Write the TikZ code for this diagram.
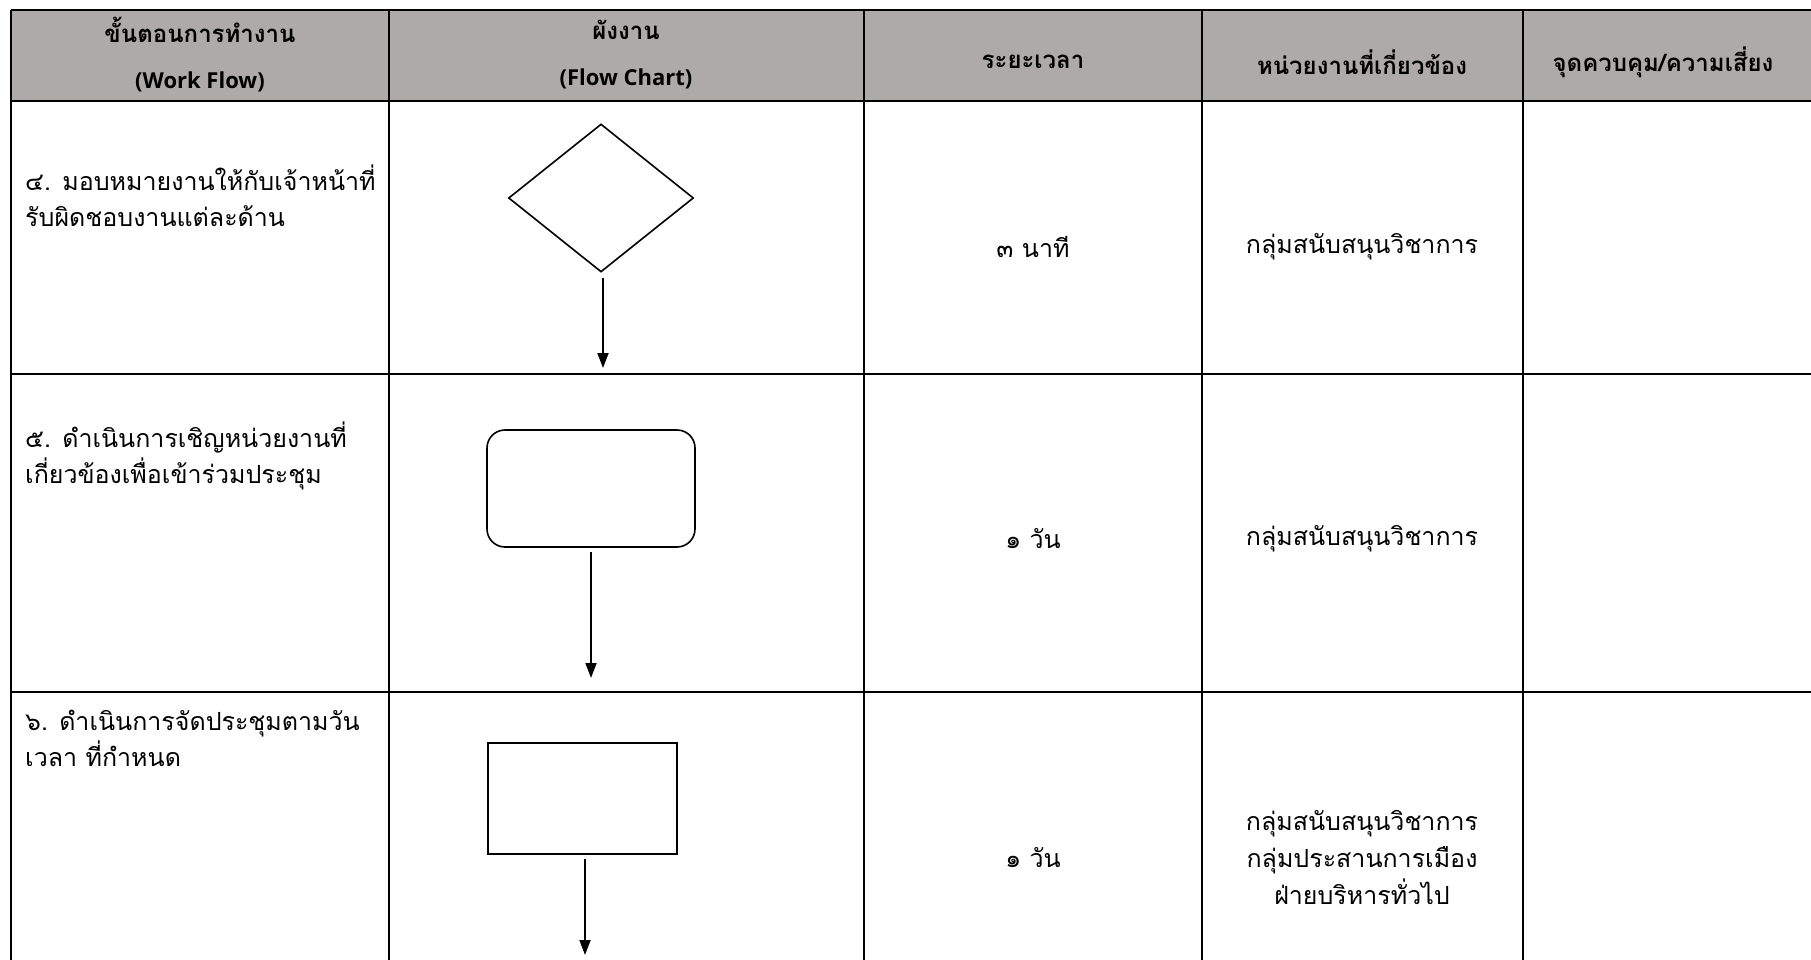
\documentclass[tikz,border=0pt]{standalone}
\usepackage{fontspec}
\newfontfamily\thai[Script=Thai]{Loma}
\newfontfamily\latin{Open Sans}
\usetikzlibrary{shapes.geometric,arrows.meta}
\definecolor{hdrgray}{RGB}{174,170,169}
\begin{document}
\begin{tikzpicture}[x=1pt,y=-1pt,
  tbl/.style={line width=2.6pt},
  hdr/.style={font=\thai\bfseries\fontsize{24}{46}\selectfont,align=center,inner sep=0pt},
  body/.style={font=\thai\fontsize{25}{36}\selectfont,align=left,anchor=west,inner sep=0pt},
  cell/.style={font=\thai\fontsize{25}{37}\selectfont,align=center,inner sep=0pt},
  shp/.style={draw,line width=1.6pt,inner sep=0pt},
  flow/.style={line width=1.8pt,-{Triangle[length=15pt,width=11pt]}}]
\useasboundingbox (0,0) rectangle (1811,960);
% header background
\fill[hdrgray] (11,10) rectangle (1811,101);
% table lines
\draw[tbl] (11,10) -- (1811,10);
\draw[tbl] (11,101) -- (1811,101);
\draw[tbl] (11,374) -- (1811,374);
\draw[tbl] (11,692) -- (1811,692);
\foreach \xx in {11,389,864,1202,1523} \draw[tbl] (\xx,10) -- (\xx,961);
% header texts
\node[hdr] (h1) at (200,55) {ขั้นตอนการทำงาน\\{\latin\fontsize{22}{46}\selectfont (Work Flow)}};
\node[hdr] (h2) at (626,55) {ผังงาน\\{\latin\fontsize{22}{46}\selectfont (Flow Chart)}};
\node[hdr] (h3) at (1033,62) {ระยะเวลา};
\node[hdr] (h4) at (1362,62) {หน่วยงานที่เกี่ยวข้อง};
\node[hdr] (h5) at (1663,62) {จุดควบคุม/ความเสี่ยง};
% step texts
\node[body] (s4) at (25,196) {๔. มอบหมายงานให้กับเจ้าหน้าที่\\รับผิดชอบงานแต่ละด้าน};
\node[body] (s5) at (25,456) {๕. ดำเนินการเชิญหน่วยงานที่\\เกี่ยวข้องเพื่อเข้าร่วมประชุม};
\node[body] (s6) at (25,738) {๖. ดำเนินการจัดประชุมตามวัน\\เวลา ที่กำหนด};
% times
\node[cell] (t4) at (1033,247) {๓ นาที};
\node[cell] (t5) at (1033,539) {๑ วัน};
\node[cell] (t6) at (1033,858) {๑ วัน};
% units
\node[cell] (u4) at (1362,247) {กลุ่มสนับสนุนวิชาการ};
\node[cell] (u5) at (1362,539) {กลุ่มสนับสนุนวิชาการ};
\node[cell] (u6) at (1362,858) {กลุ่มสนับสนุนวิชาการ\\กลุ่มประสานการเมือง\\ฝ่ายบริหารทั่วไป};
% flow chart shapes
\node[shp,diamond,minimum width=185pt,minimum height=148pt,aspect=1.25] (d4) at (601,198) {};
\node[shp,rectangle,rounded corners=18pt,minimum width=208pt,minimum height=117pt] (r5) at (591,488.5) {};
\node[shp,rectangle,minimum width=189pt,minimum height=111pt] (r6) at (582.5,798.5) {};
% arrow ends
\coordinate (e4) at (603,368);
\coordinate (e5) at (591,678);
\coordinate (e6) at (585,955);
\draw[flow] ([xshift=2pt,yshift=-5pt]d4.south) -- (e4);
\draw[flow] ([yshift=-4pt]r5.south) -- (e5);
\draw[flow] ([xshift=2.5pt,yshift=-4pt]r6.south) -- (e6);
\end{tikzpicture}
\end{document}
